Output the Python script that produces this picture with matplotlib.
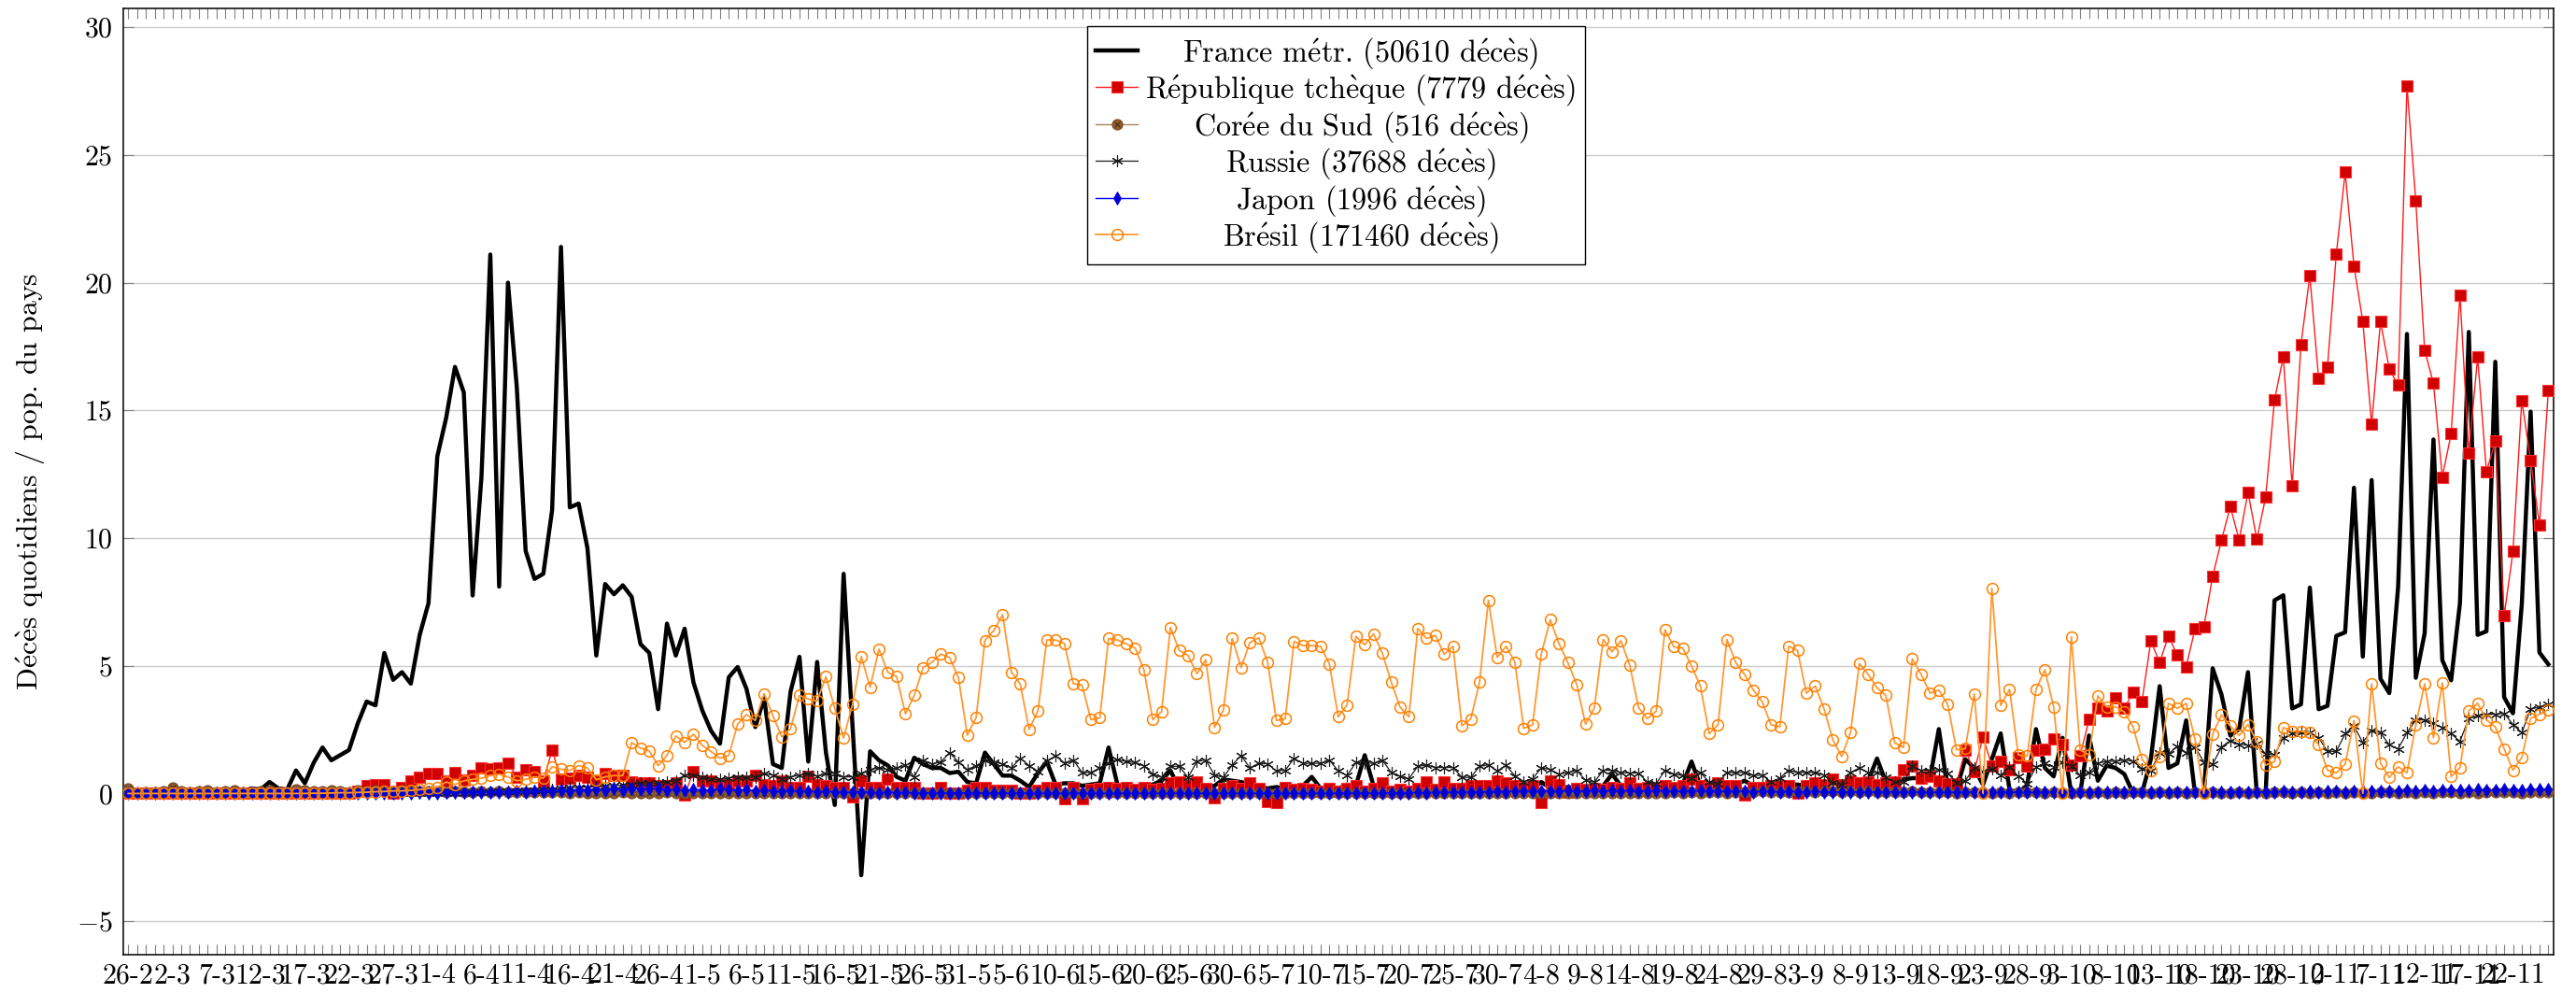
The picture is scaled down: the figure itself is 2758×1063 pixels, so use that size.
import numpy as np
import matplotlib
matplotlib.use('Agg')
import matplotlib.pyplot as plt
from matplotlib.legend_handler import HandlerTuple
from matplotlib.transforms import Bbox

plt.rcParams['font.family'] = ['cmr10', 'DejaVu Serif']
plt.rcParams['mathtext.fontset'] = 'cm'
plt.rcParams['axes.formatter.use_mathtext'] = True

# one label every 5 days, first day = 26-2
tick_labels = ['26-2', '2-3', '7-3', '12-3', '17-3', '22-3', '27-3', '1-4', '6-4', '11-4',
               '16-4', '21-4', '26-4', '1-5', '6-5', '11-5', '16-5', '21-5', '26-5', '31-5',
               '5-6', '10-6', '15-6', '20-6', '25-6', '30-6', '5-7', '10-7', '15-7', '20-7',
               '25-7', '30-7', '4-8', '9-8', '14-8', '19-8', '24-8', '29-8', '3-9', '8-9',
               '13-9', '18-9', '23-9', '28-9', '3-10', '8-10', '13-10', '18-10', '23-10', '28-10',
               '2-11', '7-11', '12-11', '17-11', '22-11']

countries = ['France métr.', 'République tchèque', 'Corée du Sud', 'Russie', 'Japon', 'Brésil']
total_deaths = [50610, 7779, 516, 37688, 1996, 171460]

# daily deaths per million inhabitants, 26-2 .. 26-11
france = [0, 0, 0, 0, 0, 0, 0.02, 0, 0.02, 0.03,
          0.02, 0.05, 0.05, 0.1, 0.2, 0.15, 0.45, 0.2, 0.15, 0.9,
          0.4, 1.2, 1.8, 1.3, 1.5, 1.7, 2.75, 3.6, 3.45, 5.5,
          4.45, 4.75, 4.3, 6.2, 7.45, 13.2, 14.7, 16.7, 15.7, 7.75,
          12.4, 21.1, 8.1, 20.0, 15.9, 9.5, 8.4, 8.6, 11.1, 21.4,
          11.2, 11.35, 9.6, 5.4, 8.2, 7.8, 8.15, 7.7, 5.85, 5.5,
          3.3, 6.65, 5.4, 6.45, 4.35, 3.25, 2.45, 1.95, 4.55, 4.95,
          4.1, 2.6, 3.75, 1.15, 1.0, 4.0, 5.35, 1.25, 5.15, 1.6,
          -0.45, 8.6, 2.7, -3.2, 1.65, 1.3, 1.1, 0.65, 0.5, 1.4,
          1.15, 1.0, 1.0, 0.8, 0.85, 0.45, 0.4, 1.6, 1.15, 0.7,
          0.7, 0.5, 0.25, 0.8, 1.25, 0.35, 0.4, 0.4, 0.3, 0.35,
          0.4, 1.8, 0.35, 0.3, 0.3, 0.3, 0.35, 0.5, 0.9, 0.2,
          0.25, 0.2, 0.25, 0.3, 0.55, 0.5, 0.45, 0.35, 0.25, 0.2,
          0.25, 0.2, 0.25, 0.3, 0.65, 0.2, 0.2, 0.2, 0.35, 0.3,
          1.5, 0.3, 0.25, 0.15, 0.1, 0.05, 0.25, 0.3, 0.2, 0.25,
          0.2, 0.15, 0.1, 0.2, 0.25, 0.2, 0.2, 0.25, 0.2, 0.2,
          0.45, 0.2, 0.2, 0.25, 0.2, 0.2, 0.2, 0.3, 0.76, 0.3,
          0.25, 0.25, 0.2, 0.2, 0.3, 0.3, 0.35, 1.25, 0.3, 0.25,
          0.25, 0.3, 0.35, 0.5, 0.3, 0.3, 0.35, 0.35, 0.35, 0.35,
          0.3, 0.4, 0.4, 0.45, 0.4, 0.4, 0.45, 0.5, 1.37, 0.45,
          0.5, 0.55, 0.6, 0.6, 0.6, 2.52, 0.17, 0.17, 1.34, 1.0,
          0.34, 1.34, 2.35, 0.17, 0.0, 0.34, 2.52, 1.0, 0.67, 2.18,
          0.0, 0.0, 2.27, 0.5, 1.09, 1.0, 0.76, 0.0, 0.0, 1.34,
          4.2, 1.0, 1.18, 2.86, 0.0, 0.0, 4.9, 3.87, 2.27, 2.52,
          4.75, 0.0, 0.0, 7.56, 7.76, 3.33, 3.49, 8.06, 3.3, 3.43,
          6.17, 6.31, 11.97, 5.36, 12.27, 4.49, 3.93, 8.1, 17.99, 4.53,
          6.27, 13.86, 5.22, 4.43, 7.46, 18.07, 6.21, 6.35, 16.9, 3.77,
          3.14, 7.41, 14.95, 5.52, 5.06]

czech = [0, 0, 0, 0, 0, 0, 0, 0, 0, 0,
         0, 0, 0, 0, 0, 0, 0, 0, 0, 0,
         0, 0, 0, 0, 0, 0, 0.1, 0.3, 0.36, 0.36,
         0.0, 0.22, 0.5, 0.65, 0.77, 0.77, 0.48, 0.83, 0.54, 0.72,
         1.01, 0.97, 1.01, 1.19, 0.65, 0.94, 0.84, 0.5, 1.7, 0.55,
         0.6, 0.72, 0.65, 0.5, 0.77, 0.7, 0.7, 0.45, 0.43, 0.43,
         0.29, 0.29, 0.43, -0.07, 0.87, 0.5, 0.5, 0.36, 0.33, 0.5,
         0.5, 0.72, 0.36, 0.32, 0.5, 0.22, 0.22, 0.68, 0.36, 0.29,
         0.22, 0.22, -0.14, 0.5, 0.22, 0.22, 0.58, 0.22, 0.22, 0.22,
         0.0, 0.0, 0.22, 0.0, 0.0, 0.14, 0.22, 0.22, 0.14, 0.14,
         0.14, 0.0, 0.0, 0.14, 0.22, 0.22, -0.2, 0.22, -0.22, 0.15,
         0.2, 0.22, 0.2, 0.22, 0.15, 0.22, 0.15, 0.2, 0.4, 0.45,
         0.35, 0.45, 0.2, -0.15, 0.2, 0.3, 0.2, 0.4, 0.2, -0.3,
         -0.35, 0.22, 0.15, 0.2, 0.15, 0.1, 0.2, 0.1, 0.2, 0.3,
         0.1, 0.2, 0.4, 0.1, 0.15, 0.1, 0.2, 0.45, 0.15, 0.45,
         0.2, 0.2, 0.3, 0.3, 0.3, 0.5, 0.4, 0.3, 0.25, 0.3,
         -0.35, 0.5, 0.35, 0.05, 0.2, 0.15, 0.2, 0.15, 0.25, 0.2,
         0.4, 0.2, 0.25, 0.25, 0.3, 0.25, 0.3, 0.57, 0.3, 0.25,
         0.4, 0.3, 0.3, -0.05, 0.25, 0.25, 0.3, 0.3, 0.3, 0.0,
         0.3, 0.4, 0.35, 0.57, 0.35, 0.5, 0.4, 0.45, 0.35, 0.4,
         0.45, 0.92, 1.06, 0.6, 0.66, 0.5, 0.39, 0.39, 1.71, 0.84,
         2.22, 1.09, 1.26, 0.92, 1.39, 1.09, 1.68, 1.73, 2.13, 1.93,
         1.13, 1.48, 2.89, 3.33, 3.24, 3.75, 3.33, 3.98, 3.61, 5.97,
         5.13, 6.17, 5.41, 4.96, 6.44, 6.52, 8.5, 9.92, 11.23, 9.92,
         11.8, 9.95, 11.6, 15.4, 17.1, 12.03, 17.57, 20.27, 16.24, 16.7,
         21.12, 24.32, 20.65, 18.48, 14.45, 18.48, 16.62, 15.98, 27.7, 23.19,
         17.35, 16.06, 12.39, 14.08, 19.52, 13.32, 17.09, 12.59, 13.8, 6.95,
         9.47, 15.39, 13.04, 10.52, 15.76]

korea = [0.2, 0.02, 0.04, 0.06, 0.08, 0.22, 0.1, 0.06, 0.1, 0.12,
         0.06, 0.1, 0.12, 0.04, 0.06, 0.1, 0.12, 0.04, 0.06, 0.16,
         0.12, 0.1, 0.08, 0.14, 0.1, 0.06, 0.12, 0.1, 0.12, 0.08,
         0.06, 0.12, 0.1, 0.08, 0.1, 0.08, 0.06, 0.08, 0.06, 0.06,
         0.08, 0.06, 0.08, 0.06, 0.04, 0.06, 0.06, 0.06, 0.04, 0.04,
         0.02, 0.04, 0.02, 0.02, 0.02, 0.02, 0.04, 0.02, 0.02, 0.02,
         0.02, 0.04, 0.02, 0.02, 0.02, 0.0, 0.02, 0.0, 0.02, 0.02,
         0.0, 0.02, 0.02, 0.0, 0.02, 0.0, 0.02, 0.0, 0.0, 0.02,
         0.0, 0.02, 0.0, 0.0, 0.02, 0.0, 0.0, 0.0, 0.02, 0.0,
         0.0, 0.0, 0.02, 0.0, 0.0, 0.02, 0.0, 0.0, 0.02, 0.0,
         0.0, 0.02, 0.0, 0.0, 0.0, 0.02, 0.0, 0.02, 0.0, 0.0,
         0.02, 0.0, 0.0, 0.02, 0.0, 0.02, 0.0, 0.0, 0.02, 0.02,
         0.0, 0.02, 0.0, 0.02, 0.0, 0.0, 0.02, 0.0, 0.02, 0.0,
         0.02, 0.0, 0.0, 0.02, 0.0, 0.02, 0.0, 0.0, 0.02, 0.0,
         0.0, 0.02, 0.0, 0.02, 0.0, 0.0, 0.02, 0.0, 0.0, 0.02,
         0.0, 0.02, 0.0, 0.0, 0.02, 0.0, 0.0, 0.02, 0.0, 0.02,
         0.0, 0.0, 0.02, 0.0, 0.02, 0.0, 0.0, 0.02, 0.0, 0.0,
         0.02, 0.0, 0.02, 0.0, 0.02, 0.04, 0.02, 0.04, 0.02, 0.06,
         0.04, 0.02, 0.06, 0.04, 0.06, 0.08, 0.04, 0.06, 0.06, 0.1,
         0.08, 0.06, 0.08, 0.1, 0.06, 0.08, 0.04, 0.08, 0.06, 0.04,
         0.06, 0.04, 0.08, 0.06, 0.04, 0.06, 0.04, 0.02, 0.04, 0.06,
         0.04, 0.02, 0.04, 0.02, 0.04, 0.06, 0.04, 0.02, 0.04, 0.02,
         0.02, 0.04, 0.02, 0.04, 0.02, 0.04, 0.02, 0.06, 0.04, 0.02,
         0.04, 0.02, 0.06, 0.02, 0.04, 0.02, 0.04, 0.02, 0.02, 0.04,
         0.02, 0.04, 0.02, 0.04, 0.04, 0.02, 0.04, 0.02, 0.04, 0.02,
         0.04, 0.02, 0.04, 0.02, 0.02, 0.04, 0.04, 0.02, 0.04, 0.02,
         0.04, 0.02, 0.06, 0.04, 0.02, 0.04, 0.02, 0.04, 0.04, 0.06,
         0.04, 0.02, 0.04, 0.04, 0.06]

russia = [0, 0, 0, 0, 0, 0, 0, 0, 0, 0,
          0, 0, 0, 0, 0, 0, 0, 0, 0, 0,
          0, 0, 0, 0, 0, 0, 0, 0, 0, 0.01,
          0.01, 0.01, 0.01, 0.01, 0.02, 0.02, 0.02, 0.03, 0.03, 0.04,
          0.05, 0.05, 0.08, 0.09, 0.1, 0.13, 0.12, 0.15, 0.15, 0.2,
          0.22, 0.25, 0.25, 0.28, 0.3, 0.3, 0.33, 0.36, 0.4, 0.42,
          0.4, 0.45, 0.5, 0.72, 0.72, 0.65, 0.55, 0.55, 0.6, 0.65,
          0.62, 0.65, 0.77, 0.72, 0.58, 0.65, 0.72, 0.77, 0.68, 0.8,
          0.8, 0.65, 0.65, 0.8, 0.94, 1.0, 0.94, 1.0, 1.1, 0.65,
          1.3, 1.16, 1.23, 1.6, 1.23, 0.94, 1.09, 1.3, 1.23, 1.16,
          1.0, 1.38, 1.09, 0.87, 1.28, 1.47, 1.2, 1.31, 0.82, 0.82,
          1.0, 1.2, 1.33, 1.25, 1.21, 1.09, 0.76, 0.63, 1.06, 1.06,
          0.63, 1.25, 1.31, 0.72, 0.63, 1.12, 1.49, 1.0, 1.18, 1.16,
          0.88, 0.91, 1.37, 1.18, 1.18, 1.18, 1.31, 0.88, 0.7, 1.21,
          1.2, 1.18, 1.31, 0.82, 0.67, 0.58, 1.06, 1.12, 1.02, 1.02,
          1.02, 0.63, 0.63, 1.06, 1.12, 0.88, 1.1, 0.69, 0.47, 0.58,
          1.0, 0.94, 0.76, 0.82, 0.91, 0.51, 0.45, 0.91, 0.91, 0.82,
          0.8, 0.8, 0.45, 0.39, 0.91, 0.76, 0.7, 0.61, 0.82, 0.45,
          0.39, 0.82, 0.82, 0.82, 0.7, 0.72, 0.45, 0.6, 0.91, 0.82,
          0.82, 0.82, 0.72, 0.43, 0.33, 0.82, 1.0, 0.82, 0.82, 0.63,
          0.45, 0.45, 1.06, 0.91, 0.91, 0.93, 0.8, 0.42, 0.5, 1.0,
          0.87, 0.97, 0.71, 1.04, 0.67, 0.39, 1.04, 1.18, 1.04, 1.21,
          1.09, 0.71, 0.81, 1.18, 1.26, 1.26, 1.31, 1.26, 0.97, 0.89,
          1.6, 1.55, 1.85, 1.6, 1.82, 1.23, 1.14, 1.82, 2.07, 1.93,
          1.89, 1.95, 1.55, 1.51, 2.18, 2.34, 2.4, 2.38, 2.18, 1.65,
          1.65, 2.34, 2.64, 1.99, 2.48, 2.38, 1.9, 1.75, 2.38, 2.88,
          2.88, 2.74, 2.58, 2.34, 2.04, 2.94, 3.04, 3.1, 3.1, 3.14,
          2.7, 2.38, 3.3, 3.39, 3.49]

japan = [0.0, 0.0, 0.01, 0.0, 0.0, 0.01, 0.0, 0.0, 0.0, 0.01,
         0.0, 0.01, 0.0, 0.0, 0.01, 0.0, 0.01, 0.0, 0.0, 0.01,
         0.0, 0.01, 0.0, 0.01, 0.01, 0.0, 0.02, 0.01, 0.02, 0.01,
         0.02, 0.03, 0.02, 0.04, 0.02, 0.03, 0.04, 0.06, 0.04, 0.05,
         0.06, 0.04, 0.07, 0.06, 0.08, 0.06, 0.1, 0.08, 0.1, 0.12,
         0.1, 0.14, 0.12, 0.16, 0.12, 0.18, 0.14, 0.2, 0.16, 0.18,
         0.2, 0.14, 0.16, 0.12, 0.16, 0.14, 0.12, 0.18, 0.15, 0.12,
         0.16, 0.1, 0.13, 0.1, 0.08, 0.12, 0.09, 0.1, 0.06, 0.08,
         0.06, 0.04, 0.05, 0.06, 0.04, 0.03, 0.05, 0.03, 0.04, 0.02,
         0.03, 0.02, 0.01, 0.02, 0.03, 0.02, 0.01, 0.02, 0.01, 0.02,
         0.01, 0.02, 0.01, 0.0, 0.01, 0.02, 0.0, 0.01, 0.01, 0.0,
         0.01, 0.0, 0.01, 0.01, 0.0, 0.01, 0.0, 0.01, 0.0, 0.01,
         0.0, 0.01, 0.0, 0.0, 0.01, 0.0, 0.01, 0.0, 0.01, 0.0,
         0.01, 0.0, 0.01, 0.0, 0.01, 0.01, 0.0, 0.01, 0.02, 0.01,
         0.02, 0.01, 0.02, 0.03, 0.02, 0.03, 0.04, 0.03, 0.05, 0.04,
         0.05, 0.06, 0.05, 0.07, 0.06, 0.08, 0.07, 0.09, 0.08, 0.1,
         0.09, 0.1, 0.08, 0.11, 0.09, 0.1, 0.12, 0.09, 0.11, 0.1,
         0.12, 0.1, 0.09, 0.11, 0.1, 0.08, 0.1, 0.09, 0.11, 0.08,
         0.1, 0.09, 0.08, 0.1, 0.07, 0.09, 0.08, 0.06, 0.09, 0.07,
         0.06, 0.08, 0.06, 0.07, 0.05, 0.07, 0.06, 0.05, 0.07, 0.05,
         0.06, 0.04, 0.06, 0.05, 0.04, 0.06, 0.04, 0.05, 0.04, 0.06,
         0.05, 0.04, 0.05, 0.06, 0.04, 0.05, 0.04, 0.06, 0.05, 0.04,
         0.06, 0.05, 0.04, 0.05, 0.06, 0.04, 0.05, 0.06, 0.04, 0.05,
         0.06, 0.05, 0.04, 0.06, 0.05, 0.06, 0.07, 0.05, 0.06, 0.07,
         0.06, 0.05, 0.07, 0.06, 0.08, 0.07, 0.06, 0.08, 0.07, 0.09,
         0.08, 0.07, 0.09, 0.08, 0.1, 0.09, 0.08, 0.1, 0.11, 0.09,
         0.12, 0.1, 0.13, 0.11, 0.14, 0.12, 0.15, 0.13, 0.12, 0.16,
         0.14, 0.13, 0.17, 0.15, 0.16]

brazil = [0, 0, 0, 0, 0, 0, 0, 0, 0, 0,
          0, 0, 0, 0, 0, 0, 0, 0, 0, 0,
          0.0, 0.01, 0.01, 0.02, 0.03, 0.03, 0.04, 0.05, 0.07, 0.08,
          0.1, 0.1, 0.12, 0.15, 0.2, 0.25, 0.45, 0.35, 0.5, 0.55,
          0.6, 0.7, 0.75, 0.65, 0.5, 0.55, 0.65, 0.6, 1.05, 0.95,
          0.9, 1.09, 1.0, 0.54, 0.65, 0.7, 0.7, 1.99, 1.78, 1.67,
          1.09, 1.49, 2.25, 2.0, 2.32, 1.88, 1.64, 1.38, 1.49, 2.71,
          3.09, 2.86, 3.91, 3.04, 2.22, 2.54, 3.84, 3.7, 3.62, 4.57,
          3.33, 2.17, 3.48, 5.36, 4.16, 5.65, 4.75, 4.57, 3.12, 3.84,
          4.93, 5.14, 5.46, 5.32, 4.54, 2.28, 2.97, 5.99, 6.38, 7.0,
          4.75, 4.28, 2.51, 3.23, 6.01, 6.01, 5.87, 4.3, 4.24, 2.89,
          2.96, 6.07, 6.01, 5.86, 5.7, 4.85, 2.89, 3.2, 6.5, 5.6,
          5.4, 4.69, 5.24, 2.59, 3.28, 6.07, 4.93, 5.91, 6.1, 5.15,
          2.86, 2.93, 5.95, 5.79, 5.79, 5.76, 5.07, 3.0, 3.47, 6.15,
          5.82, 6.25, 5.49, 4.36, 3.38, 3.0, 6.46, 6.07, 6.19, 5.45,
          5.76, 2.65, 2.92, 4.36, 7.56, 5.33, 5.76, 5.15, 2.55, 2.69,
          5.48, 6.8, 5.86, 5.12, 4.27, 2.71, 3.35, 6.03, 5.55, 5.98,
          5.03, 3.36, 2.93, 3.22, 6.41, 5.74, 5.7, 4.99, 4.21, 2.34,
          2.69, 6.03, 5.13, 4.66, 4.05, 3.59, 2.69, 2.61, 5.76, 5.6,
          3.93, 4.21, 3.32, 2.1, 1.45, 2.38, 5.09, 4.66, 4.14, 3.84,
          1.98, 1.8, 5.27, 4.66, 3.93, 4.05, 3.49, 1.71, 1.76, 3.9,
          0.0, 8.03, 3.45, 4.07, 1.51, 1.46, 4.07, 4.84, 3.39, 0.0,
          6.13, 1.71, 1.51, 3.82, 3.39, 3.39, 3.19, 2.6, 1.34, 0.89,
          1.43, 3.53, 3.33, 3.53, 2.13, 0.0, 2.32, 3.08, 2.64, 2.27,
          2.7, 2.04, 1.11, 1.25, 2.58, 2.44, 2.44, 2.38, 1.9, 0.91,
          0.81, 1.15, 2.84, 0.0, 4.29, 1.19, 0.62, 1.05, 0.81, 2.68,
          4.29, 2.18, 4.33, 0.66, 1.01, 3.24, 3.53, 2.88, 2.6, 1.75,
          0.91, 1.41, 2.94, 3.1, 3.28]

y_ticks = [-5, 0, 5, 10, 15, 20, 25, 30]


def cm_accents(s):
    # cmr10 has no precomposed accented letters: build them with mathtext
    return (s.replace('é', r'$\mathrm{\acute{e}}$')
             .replace('è', r'$\mathrm{\grave{e}}$'))


days = np.arange(len(france))
fs = 21.5
fs_leg = 23.2

fig = plt.figure(figsize=(27.58, 10.63), dpi=100)
ax = fig.add_axes([0.0477, 0.0381, 0.9436, 0.9538])

l_fr, = ax.plot(days, france, color='black', lw=3.2, zorder=3)
l_cz, = ax.plot(days, czech, color='#ff1a1a', lw=1.0, marker='s', ms=8,
                mfc='#d00000', mec='#ff3030', mew=0.8, zorder=4)
l_kr, = ax.plot(days, korea, color='#a8845e', lw=1.0, marker='o', ms=8,
                mfc='#8f5b2e', mec='#7a4a20', mew=0.8, zorder=5)
l_krx, = ax.plot(days, korea, ls='none', marker='x', ms=5, mec='#4a2e12', mew=0.8, zorder=5)
l_ru, = ax.plot(days, russia, color='#1a1a1a', lw=0.9, marker=(6, 2, 0), ms=9,
                mec='#1a1a1a', mew=0.8, zorder=6)
l_jp, = ax.plot(days, japan, color='#0000ff', lw=1.0, marker='d', ms=7,
                mfc='#0000d0', mec='#0000ff', mew=0.6, zorder=7)
l_br, = ax.plot(days, brazil, color='#ff9933', lw=1.3, marker='o', ms=8.5,
                mfc='none', mec='#ff8000', mew=1.1, zorder=8)

ax.set_xlim(-0.6, days[-1] + 0.6)
ax.set_ylim(-6.33, 30.75)

ax.set_xticks(days[::5])
ax.set_xticklabels(tick_labels)
ax.set_xticks(days, minor=True)
ax.tick_params(axis='x', which='both', direction='in', top=True, length=8,
               width=0.8, color='#808080', labelsize=fs, pad=6)
ax.set_yticks(y_ticks)
ax.tick_params(axis='y', direction='in', right=True, length=8, width=0.8,
               color='#808080', labelsize=fs, pad=8)
ax.grid(axis='y', color='#cccccc', lw=1.0)
ax.set_axisbelow(True)
for s in ax.spines.values():
    s.set_linewidth(1.1)

ax.set_ylabel(cm_accents('Décès quotidiens / pop. du pays'), fontsize=22.8)
ax.yaxis.set_label_coords(-0.031, 0.5)

labels = [cm_accents(f'{c} ({d} décès)') for c, d in zip(countries, total_deaths)]
leg = ax.legend([l_fr, l_cz, (l_kr, l_krx), l_ru, l_jp, l_br], labels,
                handler_map={tuple: HandlerTuple(ndivide=1)},
                loc='upper center', bbox_to_anchor=(0.499, 1.0), borderaxespad=0.6,
                fontsize=fs_leg, fancybox=False, framealpha=1, edgecolor='black',
                handlelength=1.4, handletextpad=0.25, borderpad=0.3,
                labelspacing=0.05, numpoints=1)
leg.get_frame().set_linewidth(1.0)
leg.set_zorder(20)

# centre the legend texts like pgfplots does
fig.canvas.draw()
rend = fig.canvas.get_renderer()
wmax = max(t.get_window_extent(rend).width for t in leg.get_texts())
for col in leg._legend_handle_box.get_children():
    for row in col.get_children():
        ta = row.get_children()[1]
        ta._text.set_horizontalalignment('center')

        def centred_bbox(renderer, orig=ta.get_bbox):
            b = orig(renderer)
            return Bbox.from_bounds(-wmax / 2, b.y0, wmax, b.height)
        ta.get_bbox = centred_bbox

fig.savefig('out.png', dpi=100)
